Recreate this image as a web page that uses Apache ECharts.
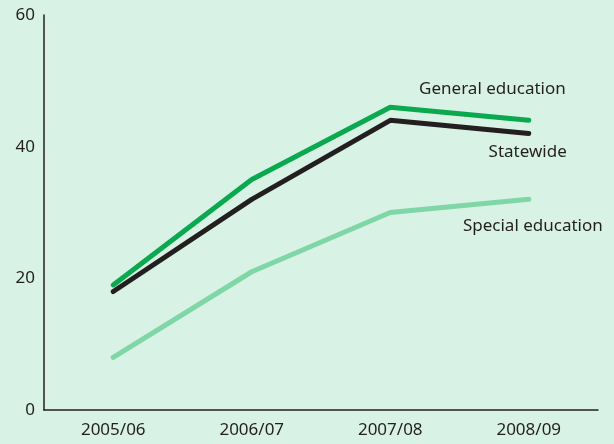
<!DOCTYPE html>
<html><head><meta charset="utf-8">
<script src="https://cdn.jsdelivr.net/npm/echarts@6/dist/echarts.min.js"></script>
<style>html,body{margin:0;padding:0;background:#d9f2e6;}#c{width:614px;height:444px;}</style>
</head><body><div id="c"></div>
<script>
const categories = ['2005/06', '2006/07', '2007/08', '2008/09'];
const general = [19, 35, 46, 44];
const statewide = [18, 32, 44, 42];
const special = [8, 21, 30, 32];
const yTicks = [0, 20, 40, 60];
const seriesNames = ['General education', 'Statewide', 'Special education'];

const font = 'Noto Sans';
const chart = echarts.init(document.getElementById('c'), null, {renderer: 'canvas'});
function ln(name, data, color) {
  return {name, type: 'line', data, symbol: 'none', smooth: false,
    lineStyle: {color, width: 5, cap: 'round', join: 'round'}, z: 3};
}
chart.setOption({
  backgroundColor: '#d9f2e6',
  animation: false,
  grid: {left: 44, right: 16, top: 15, bottom: 34},
  xAxis: {type: 'category', data: categories, boundaryGap: true,
    axisLine: {lineStyle: {color: '#231f20', width: 1.5}}, axisTick: {show: false},
    axisLabel: {color: '#231f20', fontFamily: font, fontSize: 17, margin: 12}},
  yAxis: {type: 'value', min: 0, max: 60, interval: 20,
    axisLine: {show: true, lineStyle: {color: '#231f20', width: 1.5}}, axisTick: {show: false},
    splitLine: {show: false},
    axisLabel: {color: '#231f20', fontFamily: font, fontSize: 17, margin: 9,
      formatter: v => yTicks.includes(v) ? String(v) : ''}},
  series: [
    ln(seriesNames[2], special, '#7fd6a6'),
    ln(seriesNames[1], statewide, '#231f20'),
    ln(seriesNames[0], general, '#0aa84f')
  ]
});
const last = categories.length - 1;
const pG = chart.convertToPixel({seriesIndex: 2}, [last, general[last]]);
const pS = chart.convertToPixel({seriesIndex: 1}, [last, statewide[last]]);
const pP = chart.convertToPixel({seriesIndex: 0}, [last, special[last]]);
function txt(p, dx, dy, t) {
  return {type: 'text', x: p[0] + dx, y: p[1] + dy,
    style: {text: t, fill: '#231f20', font: '17px "' + font + '"', align: 'right', verticalAlign: 'middle'}};
}
chart.setOption({graphic: [
  txt(pG, 37, -31, seriesNames[0]),
  txt(pS, 38, 19, seriesNames[1]),
  txt(pP, 74, 27, seriesNames[2])
]});
</script></body></html>
